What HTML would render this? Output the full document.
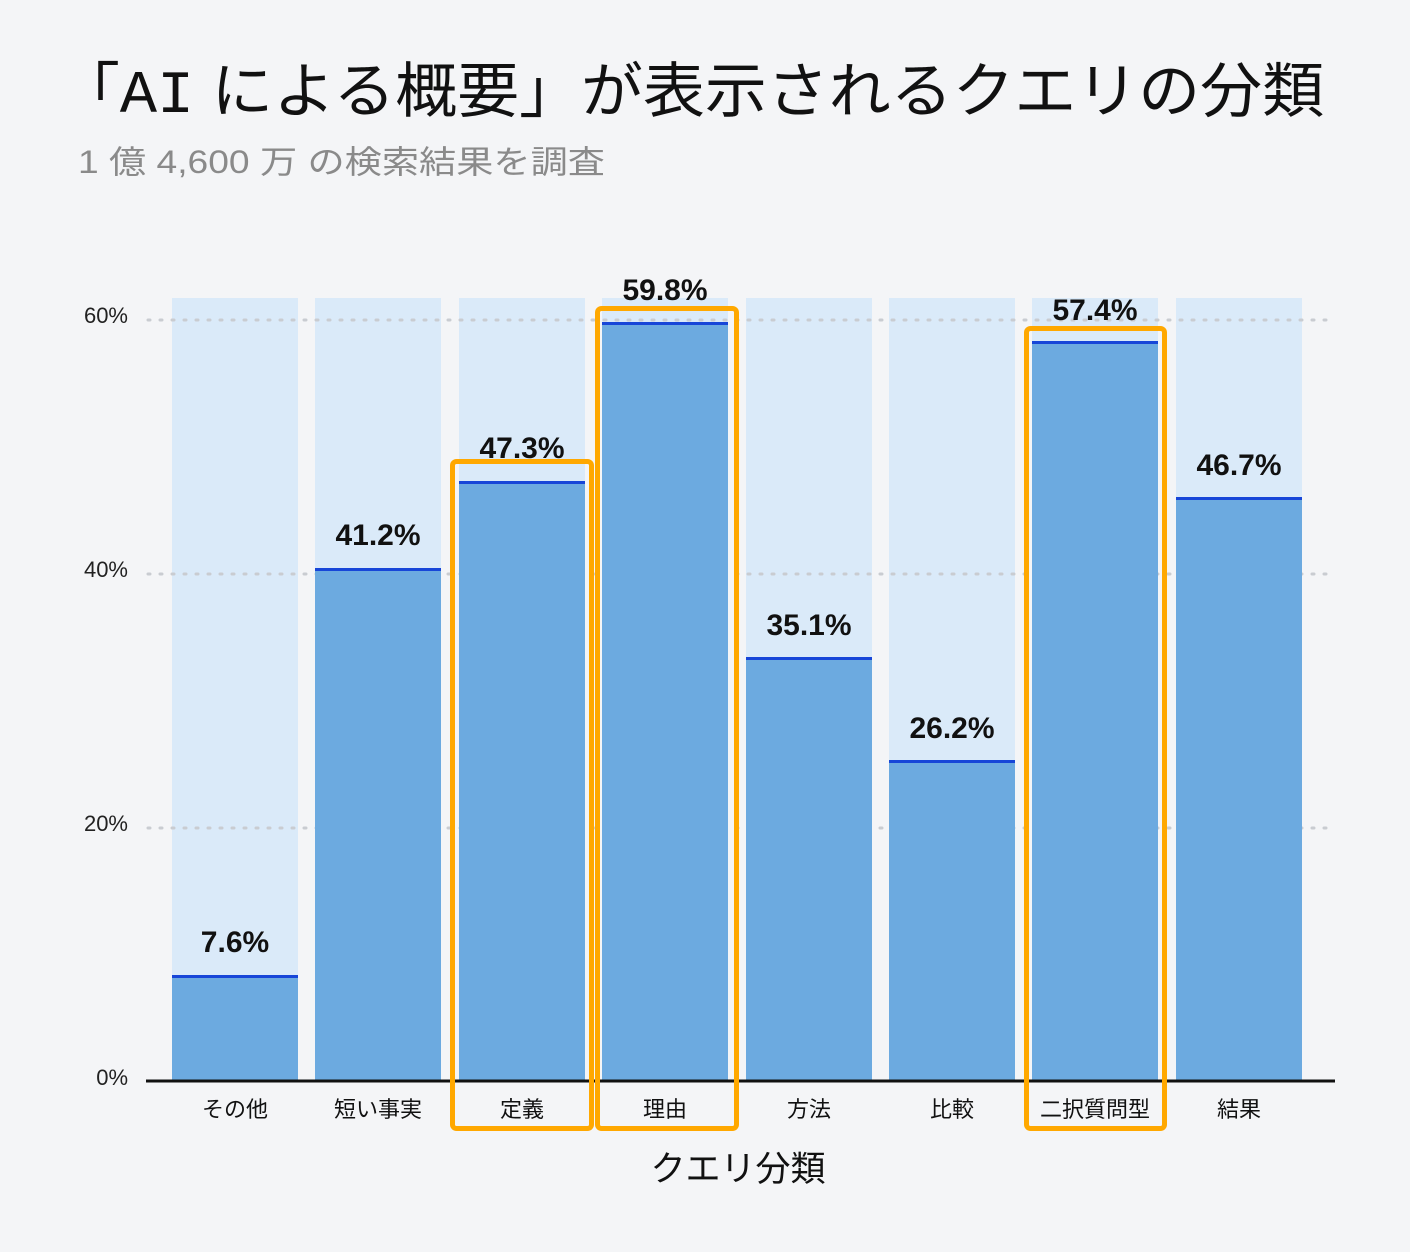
<!DOCTYPE html>
<html><head><meta charset="utf-8"><style>
body{margin:0;background:#f4f5f7;}
svg{display:block}
text{font-family:"Liberation Sans","Noto Sans CJK JP",sans-serif}
</style></head><body>
<svg width="1410" height="1252" viewBox="0 0 1410 1252" xmlns="http://www.w3.org/2000/svg">
<rect width="1410" height="1252" fill="#f4f5f7"/>
<text x="58" y="112" font-size="60" fill="#111" textLength="1266" lengthAdjust="spacingAndGlyphs">「<tspan font-family="Liberation Mono, monospace">AI</tspan> による概要」が表示されるクエリの分類</text>
<text x="78" y="173" font-size="32" fill="#8a8a8a" textLength="527" lengthAdjust="spacingAndGlyphs">1 億 4,600 万 の検索結果を調査</text>
<g fill="#daeaf9">
<rect x="172" y="298" width="126" height="783"/><rect x="315" y="298" width="126" height="783"/>
<rect x="459" y="298" width="126" height="783"/><rect x="602" y="298" width="126" height="783"/>
<rect x="746" y="298" width="126" height="783"/><rect x="889" y="298" width="126" height="783"/>
<rect x="1032" y="298" width="126" height="783"/><rect x="1176" y="298" width="126" height="783"/>
</g>
<g stroke="#c9ccd1" stroke-width="3" stroke-dasharray="2 10" stroke-linecap="round">
<line x1="148" y1="320" x2="1335" y2="320"/><line x1="148" y1="574" x2="1335" y2="574"/><line x1="148" y1="828" x2="1335" y2="828"/>
</g>
<g fill="#6caae0">
<rect x="172" y="976" width="126" height="105"/><rect x="315" y="569" width="126" height="512"/>
<rect x="459" y="482" width="126" height="599"/><rect x="602" y="323" width="126" height="758"/>
<rect x="746" y="658" width="126" height="423"/><rect x="889" y="761" width="126" height="320"/>
<rect x="1032" y="342" width="126" height="739"/><rect x="1176" y="498" width="126" height="583"/>
</g>
<g fill="#1746d8">
<rect x="172" y="975" width="126" height="3"/><rect x="315" y="568" width="126" height="3"/>
<rect x="459" y="481" width="126" height="3"/><rect x="602" y="322" width="126" height="3"/>
<rect x="746" y="657" width="126" height="3"/><rect x="889" y="760" width="126" height="3"/>
<rect x="1032" y="341" width="126" height="3"/><rect x="1176" y="497" width="126" height="3"/>
</g>
<line x1="146" y1="1081" x2="1335" y2="1081" stroke="#111" stroke-width="3"/>
<g font-size="22" fill="#222" text-anchor="end">
<text x="128" y="323">60%</text><text x="128" y="577">40%</text><text x="128" y="831">20%</text><text x="128" y="1085">0%</text>
</g>
<g font-size="30" font-weight="bold" fill="#111" text-anchor="middle">
<text x="235" y="952">7.6%</text><text x="378" y="545">41.2%</text><text x="522" y="458">47.3%</text>
<text x="665" y="300">59.8%</text><text x="809" y="635">35.1%</text><text x="952" y="738">26.2%</text>
<text x="1095" y="320">57.4%</text><text x="1239" y="475">46.7%</text>
</g>
<g font-size="22" fill="#111" text-anchor="middle">
<text x="235" y="1117">その他</text><text x="378" y="1117">短い事実</text><text x="522" y="1117">定義</text>
<text x="665" y="1117">理由</text><text x="809" y="1117">方法</text><text x="952" y="1117">比較</text>
<text x="1095" y="1117">二択質問型</text><text x="1239" y="1117">結果</text>
</g>
<text x="738" y="1181" font-size="35" fill="#111" text-anchor="middle">クエリ分類</text>
<g fill="none" stroke="#ffa800" stroke-width="5">
<rect x="452.5" y="461.5" width="139" height="667" rx="4"/>
<rect x="597.5" y="308.5" width="139" height="820" rx="4"/>
<rect x="1026.5" y="328.5" width="138" height="800" rx="4"/>
</g>
</svg>
</body></html>
